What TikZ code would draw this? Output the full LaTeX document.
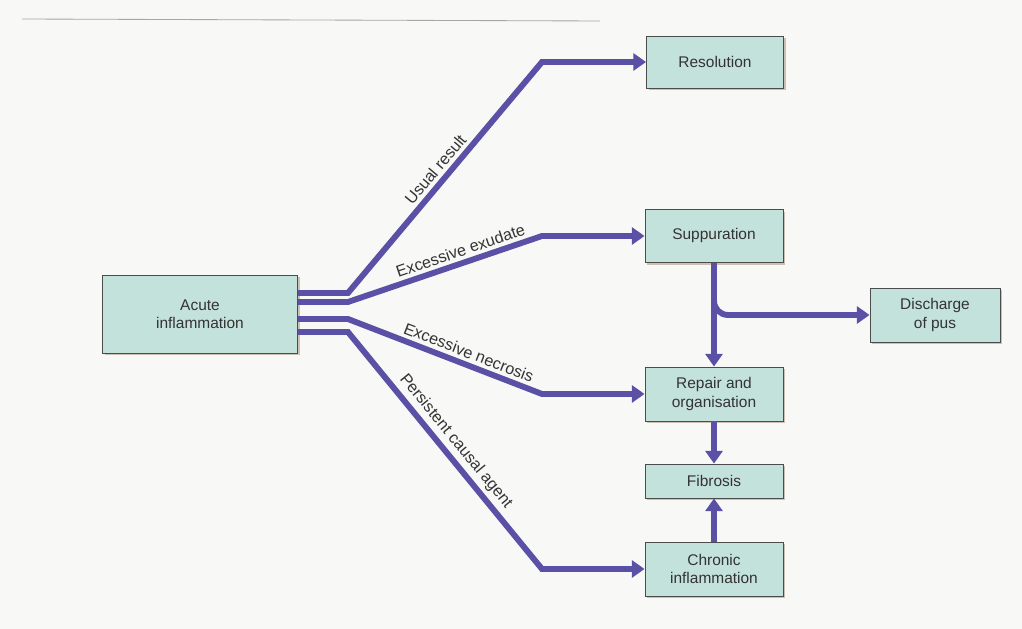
\documentclass[tikz,border=0pt]{standalone}
\usepackage{fontspec}
\setmainfont{Liberation Sans}
\usetikzlibrary{arrows.meta,calc,shadows}
\definecolor{grigio}{gray}{0.30}
\definecolor{testo}{gray}{0.20}
\definecolor{cbox}{HTML}{C4E2DC}
\definecolor{cfreccia}{HTML}{5A50A6}
\definecolor{ombra}{HTML}{8A6A50}
\definecolor{foglio}{HTML}{F8F8F6}

\begin{document}
\begin{tikzpicture}[x=0.025cm,y=-0.025cm,
  box/.style={draw=grigio,line width=0.6pt,fill=cbox,align=center,inner sep=0pt,
    text=testo,font=\fontsize{11}{13}\selectfont,
    drop shadow={shadow xshift=1.5pt,shadow yshift=-1.5pt,fill=ombra,opacity=0.4}},
  flow/.style={draw=cfreccia,line width=4.2pt,-{Triangle[width=12pt,length=9pt]}},
  lab/.style={sloped,above,inner sep=2.5pt,text=testo,font=\fontsize{11.5}{13}\selectfont}]
  \useasboundingbox (0,0) rectangle (1022,629);
  \fill[foglio] (0,0) rectangle (1022,629);
  \draw[gray!70,line width=0.6pt] (22,19) -- (600,21);

  \node[box,minimum width=4.875cm,minimum height=1.95cm] (acute) at (200,314) {Acute\\inflammation};
  \node[box,minimum width=3.425cm,minimum height=1.3cm] (res) at (715,62) {Resolution};
  \node[box,minimum width=3.45cm,minimum height=1.325cm] (supp) at (714,236) {Suppuration};
  \node[box,minimum width=3.25cm,minimum height=1.35cm] (pus) at (935,315) {Discharge\\of pus};
  \node[box,minimum width=3.45cm,minimum height=1.35cm] (rep) at (714,394) {Repair and\\organisation};
  \node[box,minimum width=3.45cm,minimum height=0.85cm] (fib) at (714,481) {Fibrosis};
  \node[box,minimum width=3.45cm,minimum height=1.35cm] (chron) at (714,569) {Chronic\\inflammation};

  \coordinate (knee) at (542,0);
  \draw[flow] ($(acute.east)+(0,-21)$) -- ++(50,0)
    -- node[lab,pos=0.5] {Usual result} (knee |- res.west) -- (res.west);
  \draw[flow] ($(acute.east)+(0,-12)$) -- ++(50,0)
    -- node[lab,pos=0.6] {Excessive exudate} (knee |- supp.west) -- (supp.west);
  \draw[flow] ($(acute.east)+(0,5)$) -- ++(50,0)
    -- node[lab,pos=0.6] {Excessive necrosis} (knee |- rep.west) -- (rep.west);
  \draw[flow] ($(acute.east)+(0,18)$) -- ++(50,0)
    -- node[lab,pos=0.5] {Persistent causal agent} (knee |- chron.west) -- (chron.west);

  \draw[flow] (supp.south) -- (rep.north);
  \draw[flow,rounded corners=10pt] (supp.south) |- (pus.west);
  \draw[flow] (rep.south) -- (fib.north);
  \draw[flow] (chron.north) -- (fib.south);
\end{tikzpicture}
\end{document}
